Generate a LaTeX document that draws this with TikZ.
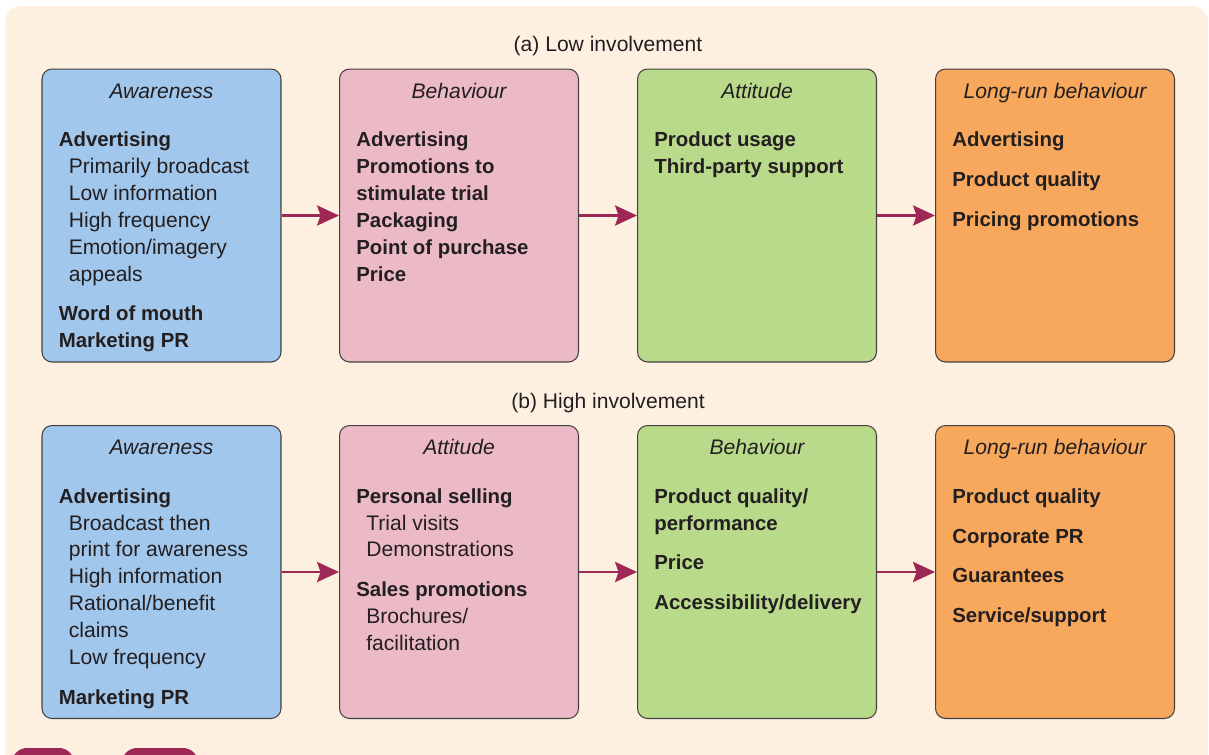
\documentclass[tikz,border=0pt]{standalone}
\usepackage{fontspec}
\setmainfont{Liberation Sans}
\usetikzlibrary{arrows.meta,calc}

\definecolor{panelbg}{HTML}{FDF0E1}
\definecolor{awblue}{HTML}{A2C7EC}
\definecolor{stpink}{HTML}{ECBAC7}
\definecolor{stgreen}{HTML}{B9D98B}
\definecolor{storange}{HTML}{F7A85C}
\definecolor{flowred}{HTML}{9E2855}
\definecolor{inkgray}{HTML}{231F20}

\newcommand{\hd}[1]{{\fontsize{11.6}{15.3}\selectfont\bfseries #1}}
\newcommand{\subln}[1]{\hspace*{5.7pt}#1}
\newcommand{\gp}{7.4pt}

\begin{document}
\begin{tikzpicture}[x=0.02cm, y=-0.02cm,
    every node/.style={font=\fontsize{12}{15.3}\selectfont, text=inkgray},
    box/.style={draw=inkgray!85, line width=0.6pt, rounded corners=0.2cm,
        minimum width=4.78cm, minimum height=5.86cm, inner sep=0pt},
    ttl/.style={anchor=base, font=\fontsize{12}{15.3}\selectfont\itshape},
    body/.style={anchor=north west, align=left, inner sep=0pt},
    flow/.style={draw=flowred, line width=1.2pt,
        -{Stealth[length=12.5pt, width=11.5pt, inset=2pt]}}]
    \clip (0,0) rectangle (1209,754);
    \useasboundingbox (0,0) rectangle (1209,754);
    \fill[panelbg, rounded corners=0.32cm] (5,6) rectangle (1208,790);

    % cut-off tabs at the foot
    \fill[flowred, rounded corners=0.3cm] (12,748) rectangle (74,790);
    \fill[flowred, rounded corners=0.3cm] (122,748) rectangle (198,790);

    % (a) low involvement
    \node (ta) at (608,46) {(a) Low involvement};
    \node[box, fill=awblue]    (a1) at (161.5,215.5) {};
    \node[box, fill=stpink]    (a2) at (459,215.5) {};
    \node[box, fill=stgreen]   (a3) at (757,215.5) {};
    \node[box, fill=storange]  (a4) at (1055,215.5) {};

    \path (a1.north) ++(0,29.5) node[ttl] (a1t) {Awareness};
    \path (a2.north) ++(0,29.5) node[ttl] (a2t) {Behaviour};
    \path (a3.north) ++(0,29.5) node[ttl] (a3t) {Attitude};
    \path (a4.north) ++(0,29.5) node[ttl] (a4t) {Long-run behaviour};

    \path (a1.north west) ++(17,63) node[body] (a1b) {\hd{Advertising}\\
        \subln{Primarily broadcast}\\ \subln{Low information}\\
        \subln{High frequency}\\ \subln{Emotion/imagery}\\
        \subln{appeals}\\[\gp]
        \hd{Word of mouth}\\ \hd{Marketing PR}};
    \path (a2.north west) ++(17,63) node[body] (a2b) {\hd{Advertising}\\
        \hd{Promotions to}\\ \hd{stimulate trial}\\ \hd{Packaging}\\
        \hd{Point of purchase}\\ \hd{Price}};
    \path (a3.north west) ++(17,63) node[body] (a3b) {\hd{Product usage}\\
        \hd{Third-party support}};
    \path (a4.north west) ++(17,63) node[body] (a4b) {\hd{Advertising}\\[\gp]
        \hd{Product quality}\\[\gp] \hd{Pricing promotions}};

    \draw[flow] (a1.east) -- (a2.west);
    \draw[flow] (a2.east) -- (a3.west);
    \draw[flow] (a3.east) -- (a4.west);

    % (b) high involvement
    \node (tb) at (608,403) {(b) High involvement};
    \node[box, fill=awblue]    (b1) at (161.5,572) {};
    \node[box, fill=stpink]    (b2) at (459,572) {};
    \node[box, fill=stgreen]   (b3) at (757,572) {};
    \node[box, fill=storange]  (b4) at (1055,572) {};

    \path (b1.north) ++(0,29.5) node[ttl] (b1t) {Awareness};
    \path (b2.north) ++(0,29.5) node[ttl] (b2t) {Attitude};
    \path (b3.north) ++(0,29.5) node[ttl] (b3t) {Behaviour};
    \path (b4.north) ++(0,29.5) node[ttl] (b4t) {Long-run behaviour};

    \path (b1.north west) ++(17,63) node[body] (b1b) {\hd{Advertising}\\
        \subln{Broadcast then}\\ \subln{print for awareness}\\
        \subln{High information}\\ \subln{Rational/benefit}\\
        \subln{claims}\\ \subln{Low frequency}\\[\gp]
        \hd{Marketing PR}};
    \path (b2.north west) ++(17,63) node[body] (b2b) {\hd{Personal selling}\\
        \subln{Trial visits}\\ \subln{Demonstrations}\\[\gp]
        \hd{Sales promotions}\\ \subln{Brochures/}\\ \subln{facilitation}};
    \path (b3.north west) ++(17,63) node[body] (b3b) {\hd{Product quality/}\\
        \hd{performance}\\[\gp] \hd{Price}\\[\gp]
        \hd{Accessibility/delivery}};
    \path (b4.north west) ++(17,63) node[body] (b4b) {\hd{Product quality}\\[\gp]
        \hd{Corporate PR}\\[\gp] \hd{Guarantees}\\[\gp]
        \hd{Service/support}};

    \draw[flow] (b1.east) -- (b2.west);
    \draw[flow] (b2.east) -- (b3.west);
    \draw[flow] (b3.east) -- (b4.west);
\end{tikzpicture}
\end{document}
